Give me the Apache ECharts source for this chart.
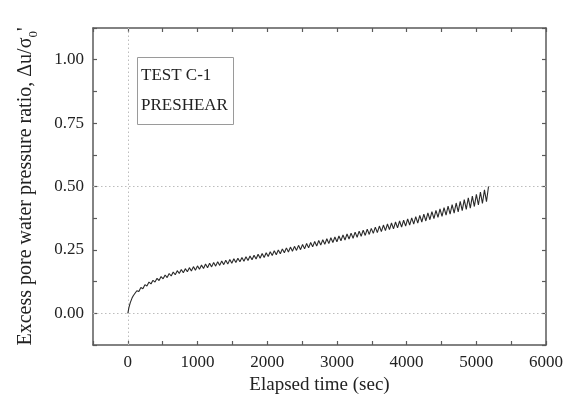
<!DOCTYPE html>
<html>
<head>
<meta charset="utf-8">
<script src="https://cdn.jsdelivr.net/npm/echarts@6/dist/echarts.min.js"></script>
<style>html,body{margin:0;padding:0;background:#fff}#c{width:575px;height:407px}</style>
</head>
<body>
<div id="c"></div>
<script>
// Elapsed time (sec) and excess pore water pressure ratio
const timeSec = [0,15,35,60,80,
100,129,158,187,216,245,274,303,332,361,390,419,448,477,506,535,564,593,622,651,680,709,738,767,796,825,854,883,912,941,970,999,
1028,1057,1086,1115,1144,1173,1202,1231,1260,1289,1318,1347,1376,1405,1434,1463,1492,1521,1550,1579,1608,1637,1666,1695,1724,1753,1782,1811,1840,1869,1898,1927,1956,1985,
2014,2043,2072,2101,2130,2159,2188,2217,2246,2275,2304,2333,2362,2391,2420,2449,2478,2507,2536,2565,2594,2623,2652,2681,2710,2739,2768,2797,2826,2855,2884,2913,2942,2971,
3000,3029,3058,3087,3116,3145,3174,3203,3232,3261,3290,3319,3348,3377,3406,3435,3464,3493,3522,3551,3580,3609,3638,3667,3696,3725,3754,3783,3812,3841,3870,3899,3928,3957,3986,
4015,4044,4073,4102,4131,4160,4189,4218,4247,4276,4305,4334,4363,4392,4421,4450,4479,4508,4537,4566,4595,4624,4653,4682,4711,4740,4769,4798,4827,4856,4885,4914,4943,4972,
5001,5030,5059,5088,5117,5146,5175];
const poreRatio = [0,0.022,0.042,0.060,0.070,
0.074,0.089,0.086,0.102,0.097,0.113,0.108,0.123,0.116,0.130,0.123,0.138,0.129,0.145,0.136,0.151,0.141,0.157,0.147,0.163,0.152,0.168,0.157,0.173,0.160,0.176,0.164,0.180,0.167,0.184,0.170,0.187,
0.174,0.190,0.177,0.194,0.180,0.197,0.183,0.200,0.186,0.203,0.189,0.206,0.192,0.209,0.194,0.212,0.197,0.215,0.200,0.217,0.203,0.220,0.205,0.223,0.208,0.226,0.211,0.229,0.214,0.233,0.217,0.236,0.220,0.239,
0.224,0.243,0.228,0.247,0.231,0.250,0.235,0.254,0.239,0.258,0.242,0.261,0.245,0.264,0.248,0.268,0.251,0.271,0.254,0.275,0.258,0.279,0.262,0.283,0.265,0.287,0.269,0.290,0.272,0.294,0.275,0.298,0.279,0.301,
0.282,0.305,0.286,0.309,0.289,0.313,0.293,0.316,0.296,0.320,0.300,0.324,0.304,0.328,0.307,0.332,0.311,0.335,0.315,0.340,0.318,0.344,0.322,0.348,0.326,0.352,0.330,0.356,0.333,0.360,0.337,0.364,0.340,0.367,0.344,
0.372,0.348,0.376,0.352,0.381,0.356,0.386,0.360,0.391,0.364,0.396,0.369,0.401,0.373,0.406,0.378,0.412,0.382,0.417,0.387,0.423,0.391,0.429,0.395,0.435,0.400,0.441,0.405,0.448,0.410,0.455,0.415,0.462,0.421,
0.469,0.427,0.478,0.433,0.487,0.440,0.500];
const xTicks = [0,1000,2000,3000,4000,5000,6000];
const yTicks = [0.00,0.25,0.50,0.75,1.00];
const legendLines = ['TEST C-1','PRESHEAR'];

const data = timeSec.map((t,i)=>[t,poreRatio[i]]);
const FONT = '"Liberation Serif", "DejaVu Serif", serif';
const axisColor = '#5a5a5a';
const isTick = (arr,v)=>arr.some(a=>Math.abs(a-v)<1e-9);

const baseX = {
  type:'value', min:-500, max:6000, interval:500,
  axisLine:{show:true,onZero:false,lineStyle:{color:axisColor,width:1.5}},
  axisTick:{show:true,inside:true,length:4,lineStyle:{color:axisColor,width:1.2}},
  splitLine:{show:false}
};
const baseY = {
  type:'value', min:-0.125, max:1.125, interval:0.125,
  axisLine:{show:true,onZero:false,lineStyle:{color:axisColor,width:1.5}},
  axisTick:{show:true,inside:true,length:4,lineStyle:{color:axisColor,width:1.2}},
  splitLine:{show:false}
};

const chart = echarts.init(document.getElementById('c'));
chart.setOption({
  animation:false,
  backgroundColor:'#fff',
  grid:{left:93,right:29,top:28,bottom:62,containLabel:false},
  xAxis:[
    Object.assign({},baseX,{
      position:'bottom',
      name:'Elapsed time (sec)', nameLocation:'middle', nameGap:27,
      nameTextStyle:{fontFamily:FONT,fontSize:19,color:'#222'},
      axisLabel:{show:true,margin:9,fontFamily:FONT,fontSize:17,color:'#222',
        formatter:v=>isTick(xTicks,v)?String(v):''}
    }),
    Object.assign({},baseX,{position:'top',axisLabel:{show:false}})
  ],
  yAxis:[
    Object.assign({},baseY,{
      position:'left',
      name:'{a|Excess pore water pressure ratio, Δu/σ}{s|0}{a|\'}',
      nameLocation:'middle', nameGap:57, nameRotate:90,
      nameTextStyle:{fontFamily:FONT,fontSize:20,color:'#222',
        rich:{
          a:{fontFamily:FONT,fontSize:20,color:'#222'},
          s:{fontFamily:FONT,fontSize:13,color:'#222',verticalAlign:'bottom',padding:[0,0,-4,0]}
        }},
      axisLabel:{show:true,margin:9,fontFamily:FONT,fontSize:17,color:'#222',
        formatter:v=>isTick(yTicks,v)?v.toFixed(2):''}
    }),
    Object.assign({},baseY,{position:'right',axisLabel:{show:false}})
  ],
  graphic:[
    {type:'rect',left:137,top:57,shape:{width:96,height:67},
     style:{fill:'#fff',stroke:'#9a9a9a',lineWidth:1},z:10},
    {type:'text',left:141,top:67,style:{text:legendLines[0],font:'17px '+FONT,fill:'#222'},z:11},
    {type:'text',left:141,top:97,style:{text:legendLines[1],font:'17px '+FONT,fill:'#222'},z:11}
  ],
  series:[{
    type:'line', data:data, showSymbol:false, symbol:'none',
    lineStyle:{color:'#2a2a2a',width:1.1},
    z:5,
    markLine:{
      silent:true, symbol:['none','none'], label:{show:false},
      lineStyle:{color:'#bdbdbd',type:[1.5,2.5],width:1},
      data:[{yAxis:0},{yAxis:0.5},{xAxis:0}],
      z:1
    }
  }]
});
</script>
</body>
</html>
